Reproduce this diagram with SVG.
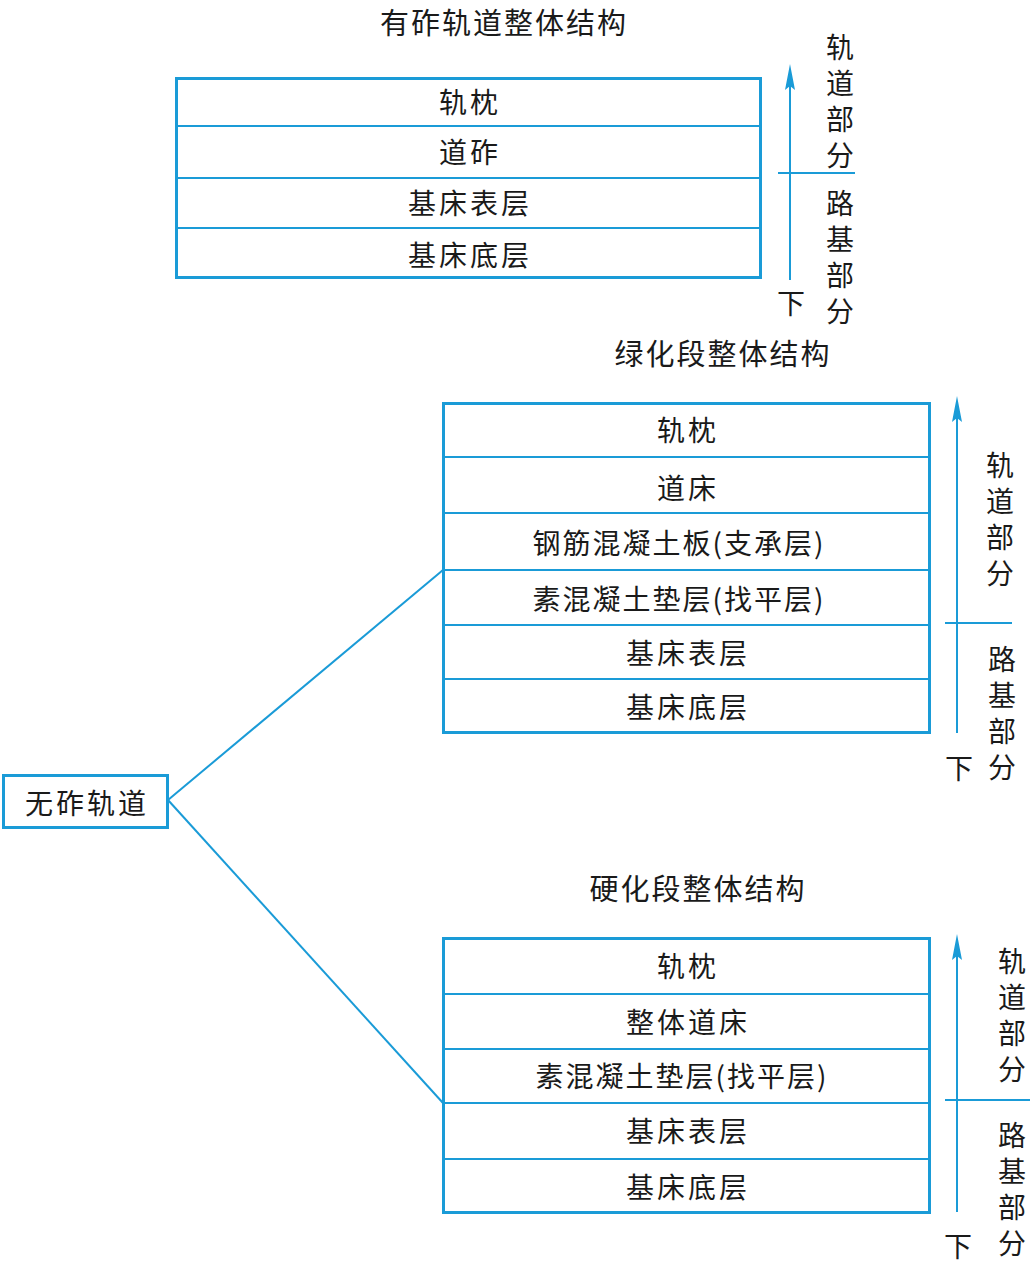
<svg xmlns="http://www.w3.org/2000/svg" width="1033" height="1266" viewBox="0 0 1033 1266">
<style>
text{font-family:"Noto Sans CJK SC","Noto Sans CJK TC",sans-serif;fill:#1a1a1a;text-anchor:middle;dominant-baseline:central}
.t{font-size:28px;letter-spacing:2px}
.r{font-size:28px;letter-spacing:3px}
.h{font-size:29px;letter-spacing:2px}
.v{font-size:28px;writing-mode:vertical-rl;letter-spacing:8px}
.d{font-size:28px}
.box{fill:#fff;stroke:#1a9bd7;stroke-width:3}
.row{stroke:#1a9bd7;stroke-width:2}
.ln{stroke:#1a9bd7;stroke-width:2;fill:none}
.ah{fill:#1a9bd7}
</style>
<rect width="1033" height="1266" fill="#fff"/>
<g id="connectors">
<line class="ln" x1="168" y1="800" x2="443" y2="570"/>
<line class="ln" x1="168" y1="800" x2="443" y2="1103"/>
</g>
<g id="root">
<rect class="box" x="3.5" y="775.5" width="164" height="52"/>
<text class="r" x="87" y="802">无砟轨道</text>
</g>
<g id="ballasted">
<text class="h" x="504" y="21">有砟轨道整体结构</text>
<rect class="box" x="176.5" y="78.5" width="584" height="199"/>
<line class="row" x1="176" y1="126" x2="761" y2="126"/>
<line class="row" x1="176" y1="178" x2="761" y2="178"/>
<line class="row" x1="176" y1="228" x2="761" y2="228"/>
<text class="r" x="470" y="101">轨枕</text>
<text class="r" x="470" y="151">道砟</text>
<text class="r" x="470" y="202">基床表层</text>
<text class="r" x="470" y="254">基床底层</text>
<line class="ln" x1="790" y1="280" x2="790" y2="80"/>
<path class="ah" d="M790 64 L795 90 L790 86 L785 90 Z"/>
<line class="ln" x1="778" y1="173" x2="855" y2="173"/>
<text class="v" x="840" y="105">轨道部分</text>
<text class="v" x="840" y="261">路基部分</text>
<text class="d" x="791" y="302">下</text>
</g>
<g id="green">
<text class="h" x="723" y="352">绿化段整体结构</text>
<rect class="box" x="443.5" y="403.5" width="486" height="329"/>
<line class="row" x1="443" y1="457" x2="930" y2="457"/>
<line class="row" x1="443" y1="513" x2="930" y2="513"/>
<line class="row" x1="443" y1="570" x2="930" y2="570"/>
<line class="row" x1="443" y1="625" x2="930" y2="625"/>
<line class="row" x1="443" y1="679" x2="930" y2="679"/>
<text class="r" x="688" y="429">轨枕</text>
<text class="r" x="688" y="487">道床</text>
<text class="t" x="679" y="542">钢筋混凝土板(支承层)</text>
<text class="t" x="679" y="598">素混凝土垫层(找平层)</text>
<text class="r" x="688" y="652">基床表层</text>
<text class="r" x="688" y="706">基床底层</text>
<line class="ln" x1="957" y1="733" x2="957" y2="412"/>
<path class="ah" d="M957 396 L962 422 L957 418 L952 422 Z"/>
<line class="ln" x1="945" y1="623" x2="1012" y2="623"/>
<text class="v" x="1000" y="523">轨道部分</text>
<text class="v" x="1002" y="717">路基部分</text>
<text class="d" x="959" y="767">下</text>
</g>
<g id="hardened">
<text class="h" x="698" y="887">硬化段整体结构</text>
<rect class="box" x="443.5" y="938.5" width="486" height="274"/>
<line class="row" x1="443" y1="994" x2="930" y2="994"/>
<line class="row" x1="443" y1="1049" x2="930" y2="1049"/>
<line class="row" x1="443" y1="1103" x2="930" y2="1103"/>
<line class="row" x1="443" y1="1159" x2="930" y2="1159"/>
<text class="r" x="688" y="965">轨枕</text>
<text class="r" x="688" y="1021">整体道床</text>
<text class="t" x="682" y="1075">素混凝土垫层(找平层)</text>
<text class="r" x="688" y="1130">基床表层</text>
<text class="r" x="688" y="1186">基床底层</text>
<line class="ln" x1="957" y1="1212" x2="957" y2="950"/>
<path class="ah" d="M957 934 L962 960 L957 956 L952 960 Z"/>
<line class="ln" x1="945" y1="1100" x2="1030" y2="1100"/>
<text class="v" x="1012" y="1019">轨道部分</text>
<text class="v" x="1012" y="1193">路基部分</text>
<text class="d" x="958" y="1245">下</text>
</g>
</svg>
